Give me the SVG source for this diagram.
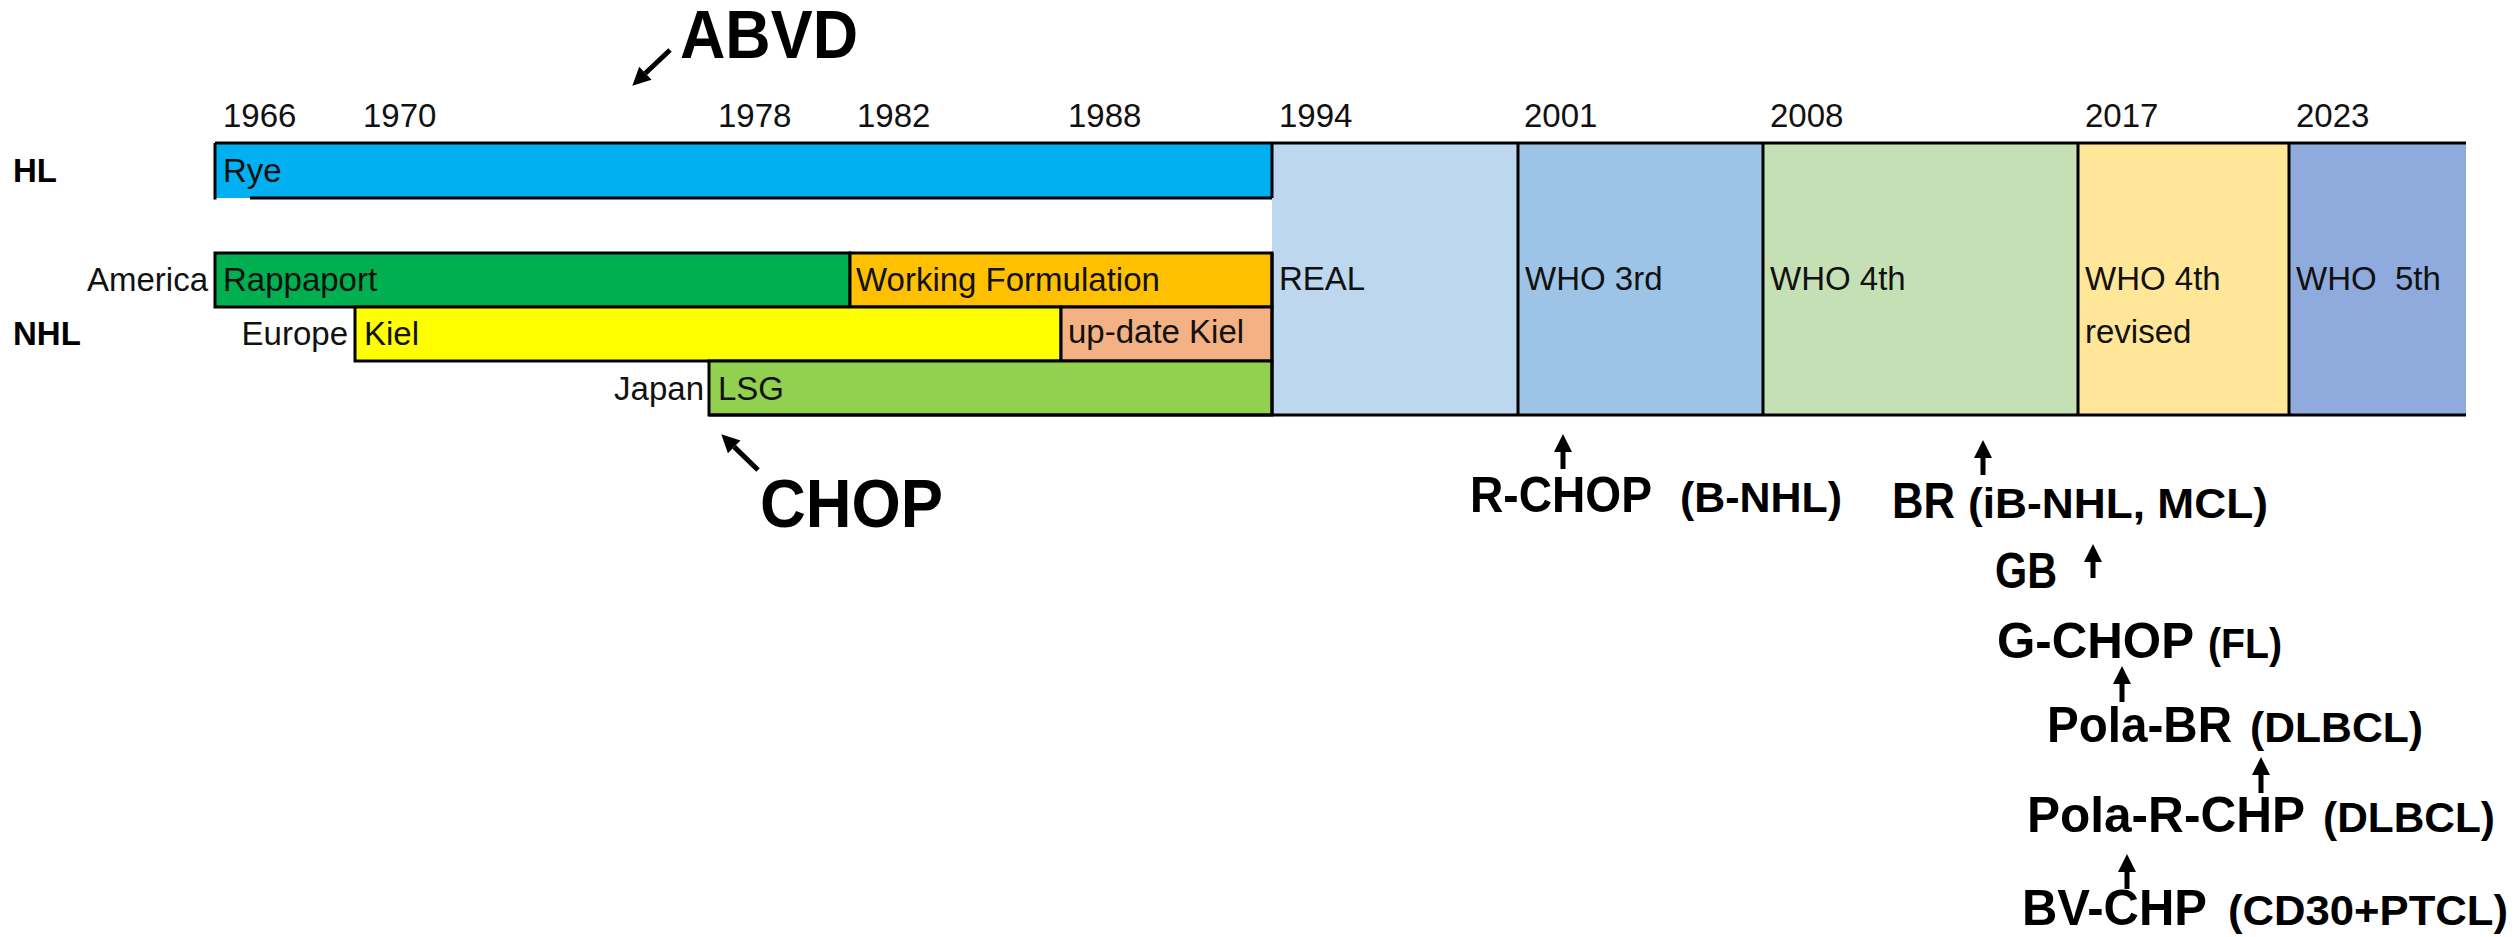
<svg xmlns="http://www.w3.org/2000/svg" width="2514" height="937" viewBox="0 0 2514 937">
<style>
.t{font-family:"Liberation Sans",Arial,sans-serif;font-size:33px;fill:#111}
.b{font-family:"Liberation Sans",Arial,sans-serif;font-weight:bold;fill:#000}
.big{font-size:50px}
.par{font-size:42px}
.huge{font-size:68px}
.hdr{font-size:33px}
.ln{stroke:#000;stroke-width:3;fill:none}
.box{stroke:#000;stroke-width:3}
.arr{stroke:#000;stroke-width:5;fill:none;marker-end:url(#ah)}
</style>
<defs>
<marker id="ah" markerUnits="userSpaceOnUse" markerWidth="20" markerHeight="20" viewBox="0 -10 18 20" refX="0" refY="0" orient="auto">
<path d="M0,-9 L18,0 L0,9 z" fill="#000"/>
</marker>
</defs>
<rect width="2514" height="937" fill="#fff"/>

<g id="years">
<text class="t" x="223" y="127">1966</text>
<text class="t" x="363" y="127">1970</text>
<text class="t" x="718" y="127">1978</text>
<text class="t" x="857" y="127">1982</text>
<text class="t" x="1068" y="127">1988</text>
<text class="t" x="1279" y="127">1994</text>
<text class="t" x="1524" y="127">2001</text>
<text class="t" x="1770" y="127">2008</text>
<text class="t" x="2085" y="127">2017</text>
<text class="t" x="2296" y="127">2023</text>
</g>

<g id="row-labels">
<text class="b hdr" x="13" y="182">HL</text>
<text class="b hdr" x="13" y="345">NHL</text>
<text class="t" x="208" y="291" text-anchor="end">America</text>
<text class="t" x="348" y="345" text-anchor="end">Europe</text>
<text class="t" x="704" y="400" text-anchor="end">Japan</text>
</g>

<g id="real">
<rect x="1272" y="143" width="246" height="272" fill="#BDD7EE"/>
<text class="t" x="1279" y="290">REAL</text>
</g>
<g id="who3">
<rect x="1518" y="143" width="245" height="272" fill="#9DC3E6"/>
<text class="t" x="1525" y="290">WHO 3rd</text>
</g>
<g id="who4">
<rect x="1763" y="143" width="315" height="272" fill="#C5E0B4"/>
<text class="t" x="1770" y="290">WHO 4th</text>
</g>
<g id="who4r">
<rect x="2078" y="143" width="211" height="272" fill="#FFE699"/>
<text class="t" x="2085" y="290">WHO 4th</text>
<text class="t" x="2085" y="343">revised</text>
</g>
<g id="who5">
<rect x="2289" y="143" width="177" height="272" fill="#8FAADC"/>
<text class="t" x="2296" y="290" xml:space="preserve">WHO  5th</text>
</g>

<g id="rye">
<rect x="215" y="143" width="1057" height="55" fill="#00B0F0"/>
<text class="t" x="223" y="182">Rye</text>
</g>
<g id="rappaport">
<rect class="box" x="215" y="253" width="635" height="54" fill="#00B050"/>
<text class="t" x="223" y="291">Rappaport</text>
</g>
<g id="working-formulation">
<rect class="box" x="850" y="253" width="422" height="54" fill="#FFC000"/>
<text class="t" x="856" y="291">Working Formulation</text>
</g>
<g id="kiel">
<rect class="box" x="355" y="307" width="706" height="54" fill="#FFFF00"/>
<text class="t" x="364" y="345">Kiel</text>
</g>
<g id="update-kiel">
<rect class="box" x="1061" y="307" width="211" height="54" fill="#F4B183"/>
<text class="t" x="1068" y="343">up-date Kiel</text>
</g>
<g id="lsg">
<rect class="box" x="709" y="361" width="563" height="54" fill="#92D050"/>
<text class="t" x="718" y="400">LSG</text>
</g>

<g id="grid">
<path class="ln" d="M215,143 H2466"/>
<path class="ln" d="M709,415 H2466"/>
<path class="ln" d="M250,198 H1272 M215,143 V199.5 M1272,143 V198 M1272,253 V415"/>
<path class="ln" d="M1518,143 V415 M1763,143 V415 M2078,143 V415 M2289,143 V415"/>
</g>

<g id="abvd">
<text class="b huge" x="680" y="58" textLength="178" lengthAdjust="spacingAndGlyphs">ABVD</text>
</g>
<g id="chop">
<text class="b huge" x="760" y="527" textLength="183" lengthAdjust="spacingAndGlyphs">CHOP</text>
</g>
<g id="r-chop">
<text class="b big" x="1470" y="512" textLength="182" lengthAdjust="spacingAndGlyphs">R-CHOP</text>
<text class="b par" x="1680" y="512" textLength="162" lengthAdjust="spacingAndGlyphs">(B-NHL)</text>
</g>
<g id="br">
<text class="b big" x="1892" y="518" textLength="63" lengthAdjust="spacingAndGlyphs">BR</text>
<text class="b par" x="1968" y="518" textLength="300" lengthAdjust="spacingAndGlyphs">(iB-NHL, MCL)</text>
</g>
<g id="gb">
<text class="b big" x="1995" y="588" textLength="62" lengthAdjust="spacingAndGlyphs">GB</text>
</g>
<g id="g-chop">
<text class="b big" x="1997" y="658" textLength="197" lengthAdjust="spacingAndGlyphs">G-CHOP</text>
<text class="b par" x="2208" y="658" textLength="74" lengthAdjust="spacingAndGlyphs">(FL)</text>
</g>
<g id="pola-br">
<text class="b big" x="2047" y="742" textLength="185" lengthAdjust="spacingAndGlyphs">Pola-BR</text>
<text class="b par" x="2250" y="742" textLength="173" lengthAdjust="spacingAndGlyphs">(DLBCL)</text>
</g>
<g id="pola-r-chp">
<text class="b big" x="2027" y="832" textLength="278" lengthAdjust="spacingAndGlyphs">Pola-R-CHP</text>
<text class="b par" x="2323" y="832" textLength="172" lengthAdjust="spacingAndGlyphs">(DLBCL)</text>
</g>
<g id="bv-chp">
<text class="b big" x="2022" y="925" textLength="185" lengthAdjust="spacingAndGlyphs">BV-CHP</text>
<text class="b par" x="2228" y="925" textLength="280" lengthAdjust="spacingAndGlyphs">(CD30+PTCL)</text>
</g>

<g id="connectors">
<line class="arr" x1="670" y1="50" x2="645.4" y2="73.3"/>
<line class="arr" x1="758" y1="470" x2="734.2" y2="446.9"/>
<line class="arr" x1="1563" y1="469" x2="1563" y2="452"/>
<line class="arr" x1="1983" y1="475" x2="1983" y2="458"/>
<line class="arr" x1="2093" y1="578" x2="2093" y2="562"/>
<line class="arr" x1="2122" y1="702" x2="2122" y2="684"/>
<line class="arr" x1="2261" y1="793" x2="2261" y2="775"/>
<line class="arr" x1="2127" y1="889" x2="2127" y2="872"/>
</g>
</svg>
